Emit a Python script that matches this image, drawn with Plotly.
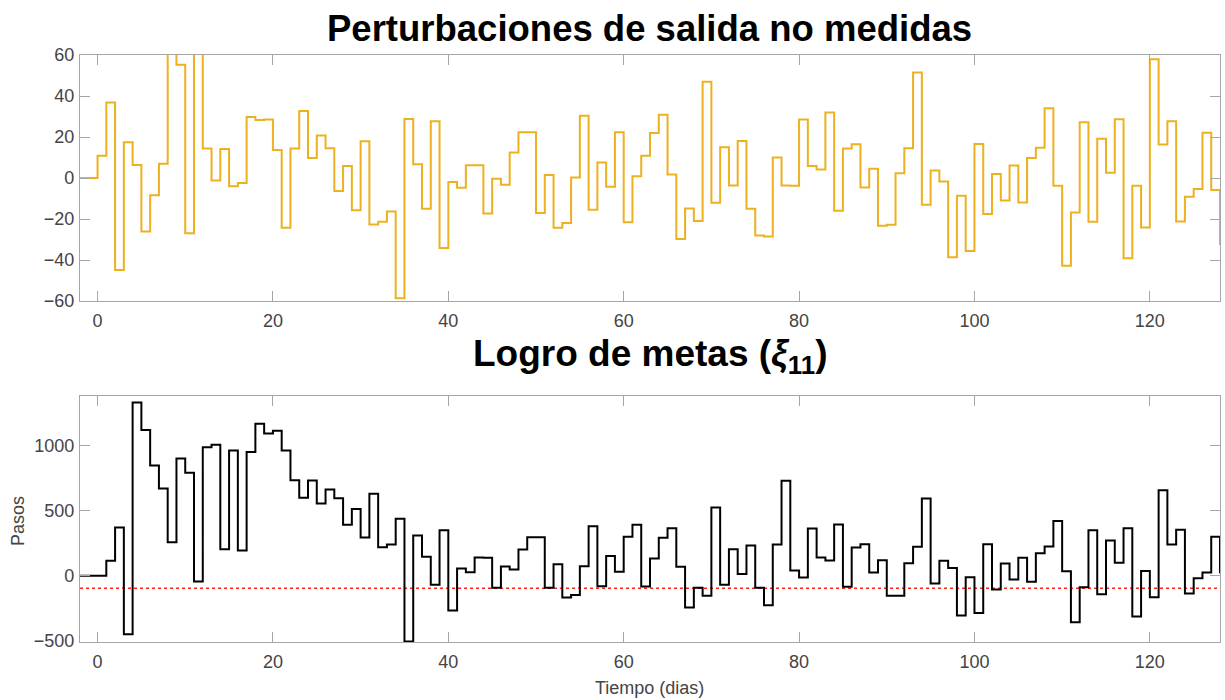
import plotly.graph_objects as go

# ---- data ----
steps = list(range(-2, 129))

disturbance = [0, 0,
    10.8, 36.8, -44.9, 17.4, 6.4, -26.1, -8.4, 6.9, 75, 55.3,
    -26.9, 70, 14.4, -1.2, 14.2, -4.0, -2.4, 29.8, 28.3, 28.5,
    13.7, -24.3, 14.4, 32.7, 9.8, 20.7, 14.5, -6.3, 5.9, -15.7,
    17.9, -22.7, -21.4, -16.3, -58.7, 28.8, 6.7, -15.0, 27.7, -34.2,
    -1.9, -4.8, 6.2, 6.2, -17.3, -0.4, -3.3, 12.4, 22.3, 22.3,
    -17.1, 1.5, -24.3, -22.0, 0.2, 30.4, -15.5, 7.5, -4.3, 22.3,
    -21.6, 0.9, 10.9, 22.0, 30.9, 1.7, -29.8, -14.9, -21.0, 47.0,
    -12.1, 15.0, -3.7, 18.1, -15.0, -28.0, -28.5, 10.0, -3.7, -3.8,
    28.5, 5.9, 4.1, 32.0, -16.0, 14.4, 16.5, -4.6, 4.5, -23.3,
    -22.8, 2.3, 14.5, 51.5, -13.1, 3.6, -1.7, -38.6, -8.7, -35.6,
    16.6, -17.5, 2.0, -11.0, 6.1, -11.9, 9.8, 14.8, 34.0, -3.8,
    -42.8, -16.8, 27.2, -21.3, 19.2, 2.5, 28.7, -39.1, -3.8, -24.2,
    57.9, 16.3, 27.7, -21.2, -9.2, -5.4, 22.1, -5.8, -32.7]

goal = [0, 0,
    0, 115, 371, -448, 1330, 1118, 847, 670, 258, 900,
    790, -43, 987, 1005, 205, 962, 194, 949, 1166, 1092,
    1113, 962, 734, 599, 732, 555, 662, 596, 391, 512,
    294, 629, 220, 240, 437, -504, 310, 146, -69, 350,
    -266, 56, 28, 141, 138, -92, 72, 49, 202, 297,
    297, -92, 90, -166, -146, 74, 381, -79, 153, 31,
    299, 391, -82, 133, 292, 366, 69, -243, -92, -153,
    524, -69, 205, 15, 233, -92, -225, 240, 729, 41,
    -13, 363, 141, 118, 394, -84, 217, 243, 26, 120,
    -153, -153, 97, 223, 593, -59, 115, 61, -304, -10,
    -284, 243, -105, 95, -28, 138, -46, 174, 225, 420,
    36, -356, -87, 350, -141, 271, 100, 366, -312, 38,
    -164, 657, 240, 353, -136, -18, 26, 299, 20]

threshold = -95
x_ticks = [0, 20, 40, 60, 80, 100, 120]
y1_ticks = [-60, -40, -20, 0, 20, 40, 60]
y2_ticks = [-500, 0, 500, 1000]

title_top = "<b>Perturbaciones de salida no medidas</b>"
title_bottom = "<b>Logro de metas (<i>ξ</i><sub>11</sub>)</b>"
ylabel_bottom = "Pasos"
xlabel_bottom = "Tiempo (dias)"

# ---- figure ----
ORANGE = "#EDB120"
AXC = "#a6a6a6"
TXC = "#444444"
FONT = "Liberation Sans, Arial, sans-serif"

fig = go.Figure()
fig.add_trace(go.Scatter(x=steps, y=disturbance, mode="lines", line_shape="hv",
                         line=dict(color=ORANGE, width=2), xaxis="x", yaxis="y",
                         showlegend=False))
fig.add_trace(go.Scatter(x=[steps[0], steps[-1]], y=[threshold, threshold], mode="lines",
                         line=dict(color="#ff2020", width=1.6, dash="dot"),
                         xaxis="x2", yaxis="y2", showlegend=False))
fig.add_trace(go.Scatter(x=steps, y=goal, mode="lines", line_shape="hv",
                         line=dict(color="black", width=2), xaxis="x2", yaxis="y2",
                         showlegend=False))

axis_common = dict(showline=True, linecolor=AXC, linewidth=1.3, mirror="ticks",
                   ticks="inside", ticklen=10, tickcolor=AXC, tickwidth=1.3,
                   showgrid=False, zeroline=False, automargin=False,
                   tickfont=dict(family=FONT, size=18, color=TXC))

L, R = 80 / 1225, 1220 / 1225
fig.update_layout(
    template="none",
    width=1225, height=700, autosize=False,
    margin=dict(l=0, r=0, t=0, b=0, pad=0),
    paper_bgcolor="white", plot_bgcolor="white",
    font=dict(family=FONT, color=TXC),
    xaxis=dict(domain=[L, R], anchor="y", range=[-2, 128], tickvals=x_ticks,
               ticklabelstandoff=3, **axis_common),
    yaxis=dict(domain=[1 - 301 / 700, 1 - 55 / 700], anchor="x", range=[-60, 60],
               tickvals=y1_ticks, ticklabelstandoff=1, **axis_common),
    xaxis2=dict(domain=[L, R], anchor="y2", range=[-2, 128], tickvals=x_ticks,
                ticklabelstandoff=3, **axis_common),
    yaxis2=dict(domain=[1 - 642 / 700, 1 - 396 / 700], anchor="x2", range=[-507, 1379],
                tickvals=y2_ticks, ticklabelstandoff=1, **axis_common),
    annotations=[
        dict(text=title_top, x=0.5 * (L + R), y=1 - 28 / 700, xref="paper", yref="paper",
             showarrow=False, xanchor="center", yanchor="middle",
             font=dict(family=FONT, size=36.5, color="black")),
        dict(text=title_bottom, x=0.5 * (L + R), y=1 - 356 / 700, xref="paper", yref="paper",
             showarrow=False, xanchor="center", yanchor="middle",
             font=dict(family=FONT, size=37, color="black")),
        dict(text=ylabel_bottom, x=18 / 1225, y=1 - 521 / 700, xref="paper", yref="paper",
             showarrow=False, xanchor="center", yanchor="middle", textangle=-90,
             font=dict(family=FONT, size=18, color=TXC)),
        dict(text=xlabel_bottom, x=0.5 * (L + R), y=1 - 688 / 700, xref="paper", yref="paper",
             showarrow=False, xanchor="center", yanchor="middle",
             font=dict(family=FONT, size=18, color=TXC)),
    ],
)

fig.write_html("out.html")
